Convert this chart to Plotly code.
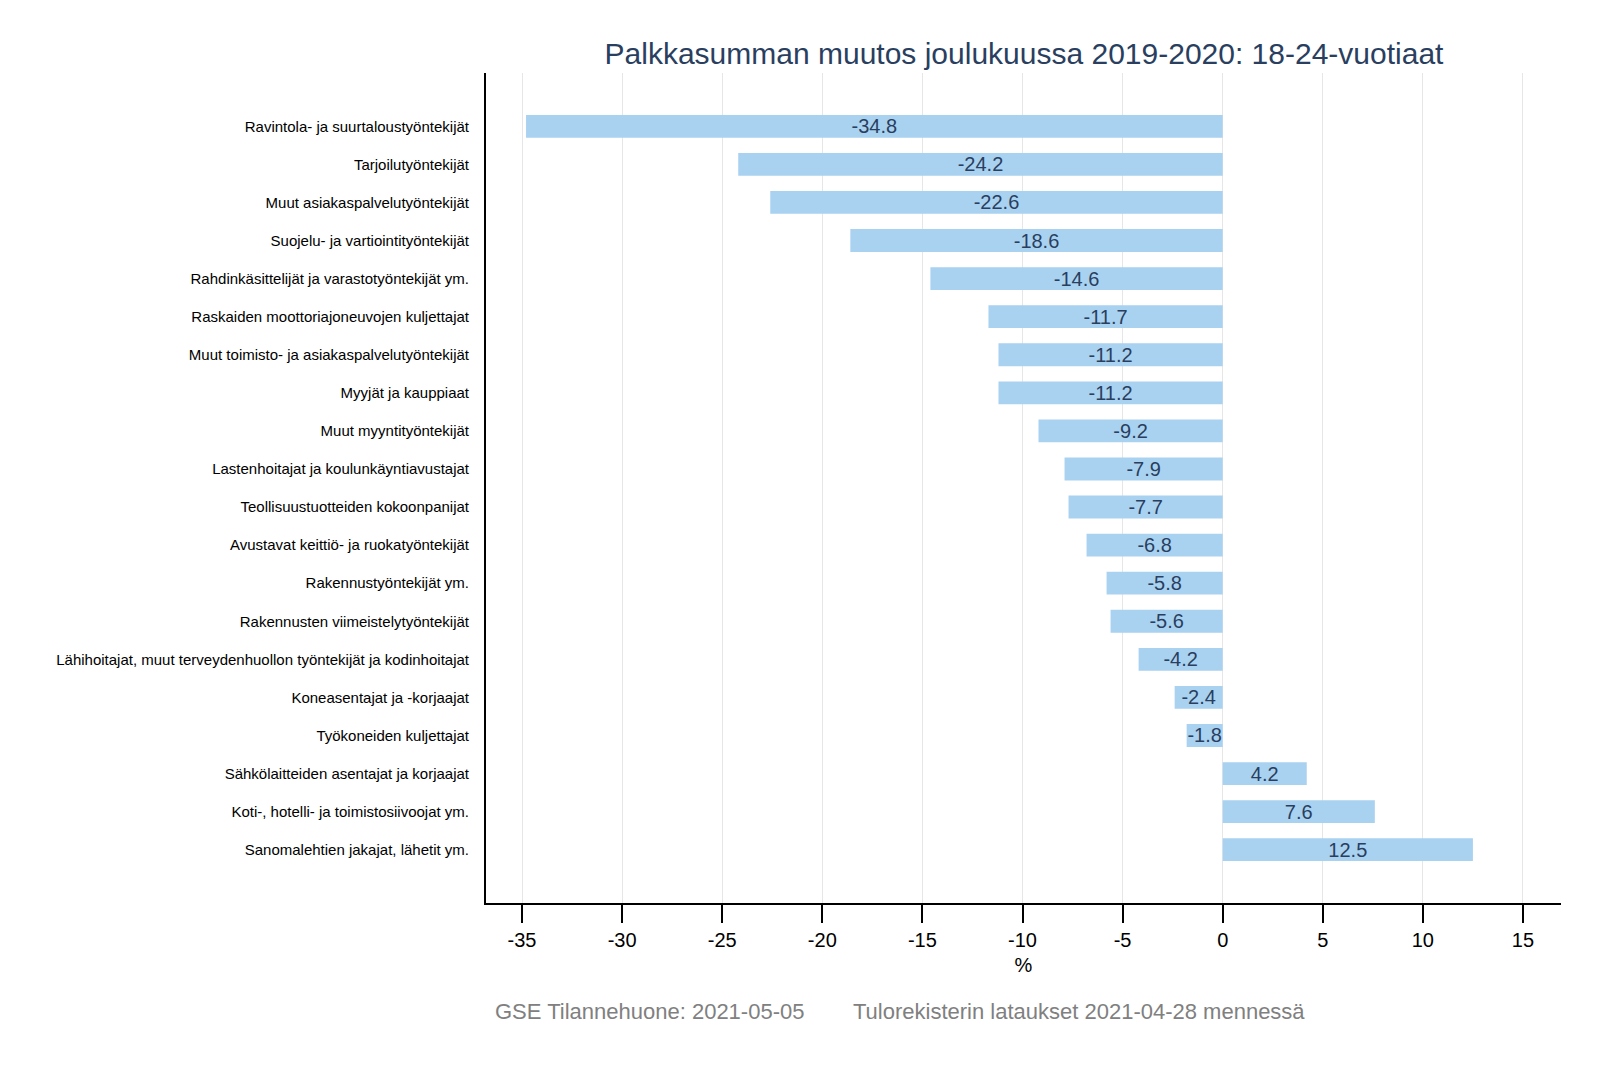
import plotly.graph_objects as go

categories = [
    "Ravintola- ja suurtaloustyöntekijät",
    "Tarjoilutyöntekijät",
    "Muut asiakaspalvelutyöntekijät",
    "Suojelu- ja vartiointityöntekijät",
    "Rahdinkäsittelijät ja varastotyöntekijät ym.",
    "Raskaiden moottoriajoneuvojen kuljettajat",
    "Muut toimisto- ja asiakaspalvelutyöntekijät",
    "Myyjät ja kauppiaat",
    "Muut myyntityöntekijät",
    "Lastenhoitajat ja koulunkäyntiavustajat",
    "Teollisuustuotteiden kokoonpanijat",
    "Avustavat keittiö- ja ruokatyöntekijät",
    "Rakennustyöntekijät ym.",
    "Rakennusten viimeistelytyöntekijät",
    "Lähihoitajat, muut terveydenhuollon työntekijät ja kodinhoitajat",
    "Koneasentajat ja -korjaajat",
    "Työkoneiden kuljettajat",
    "Sähkölaitteiden asentajat ja korjaajat",
    "Koti-, hotelli- ja toimistosiivoojat ym.",
    "Sanomalehtien jakajat, lähetit ym.",
]
values = [-34.8, -24.2, -22.6, -18.6, -14.6, -11.7, -11.2, -11.2, -9.2, -7.9,
          -7.7, -6.8, -5.8, -5.6, -4.2, -2.4, -1.8, 4.2, 7.6, 12.5]
x_ticks = [-35, -30, -25, -20, -15, -10, -5, 0, 5, 10, 15]

title = "Palkkasumman muutos joulukuussa 2019-2020: 18-24-vuotiaat"
footer = "GSE Tilannehuone: 2021-05-05        Tulorekisterin lataukset 2021-04-28 mennessä"

fig = go.Figure(go.Bar(
    x=values, y=list(range(len(categories))), orientation="h",
    marker=dict(color="#a9d2f0", line=dict(width=0)),
    width=0.6,
    text=[f"{v:.1f}" for v in values], textposition="inside",
    insidetextanchor="middle", constraintext="none",
    textfont=dict(size=20, color="#2a3f5f", family="Liberation Sans, Arial"),
    cliponaxis=False,
))

fig.update_layout(
    width=1600, height=1067,
    paper_bgcolor="white", plot_bgcolor="white",
    margin=dict(l=478, r=47, t=65, b=172, autoexpand=False),
    title=dict(text=title, x=0.635, xanchor="center", y=0.957, yanchor="middle",
               font=dict(size=30, color="#2a3f5f", family="Liberation Sans, Arial")),
    showlegend=False,
    font=dict(family="Liberation Sans, Arial"),
)
fig.update_xaxes(
    range=[-36.8, 16.9], tickvals=x_ticks, ticktext=[str(t) for t in x_ticks],
    showgrid=True, gridcolor="#e6e6e6", gridwidth=1, zeroline=False,
    showline=True, linecolor="black", linewidth=2,
    ticks="outside", ticklen=18, tickwidth=2, tickcolor="black",
    tickfont=dict(size=20, color="black"),
    title=dict(text="%", font=dict(size=20, color="black"), standoff=8),
    automargin=False,
)
fig.update_yaxes(
    range=[20.4, -1.4], tickvals=list(range(len(categories))), ticktext=categories,
    showgrid=False, zeroline=False,
    showline=True, linecolor="black", linewidth=2,
    ticks="", ticklabelstandoff=12,
    tickfont=dict(size=15, color="black"),
    automargin=False,
)
fig.add_annotation(text=footer, xref="paper", yref="paper", x=0.385, y=-0.131,
                   xanchor="center", yanchor="middle", showarrow=False,
                   font=dict(size=22, color="#808080", family="Liberation Sans, Arial"))

fig.write_html("out.html")
